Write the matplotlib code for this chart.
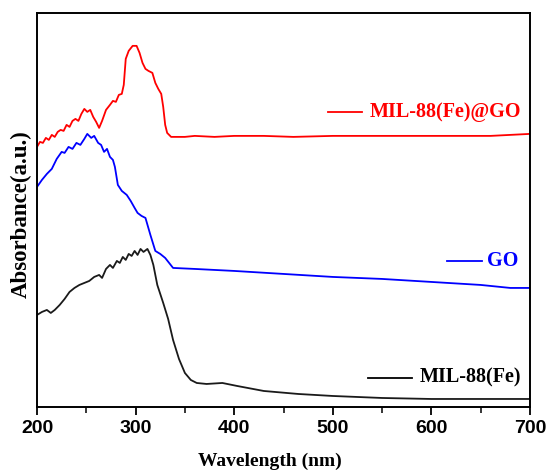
import matplotlib
matplotlib.use('Agg')
import matplotlib.pyplot as plt

# MIL-88(Fe)@GO (red)
nm_red = [200, 203, 206, 209, 212, 215, 218, 221, 224, 227, 230, 233, 236, 239, 242, 245,
          248, 251, 254, 257, 260, 263, 266, 270, 274, 277, 280, 283, 286, 288, 290, 293,
          297, 301, 304, 307, 310, 313, 317, 320, 323, 326, 328, 330, 332, 336, 340, 350,
          360, 380, 400, 430, 460, 500, 540, 580, 620, 660, 700]
abs_red = [2.60, 2.65, 2.64, 2.69, 2.67, 2.72, 2.70, 2.75, 2.77, 2.76, 2.82, 2.80, 2.86, 2.88, 2.86, 2.93,
           2.98, 2.95, 2.97, 2.90, 2.85, 2.79, 2.86, 2.97, 3.02, 3.06, 3.05, 3.12, 3.13, 3.22, 3.48, 3.56,
           3.61, 3.61, 3.54, 3.44, 3.38, 3.36, 3.34, 3.24, 3.18, 3.13, 3.00, 2.82, 2.74, 2.70, 2.70, 2.70,
           2.71, 2.70, 2.71, 2.71, 2.70, 2.71, 2.71, 2.71, 2.71, 2.71, 2.73]

# GO (blue)
nm_blue = [200, 205, 210, 215, 220, 225, 228, 232, 236, 240, 244, 248, 251, 255, 258, 262,
           265, 268, 271, 274, 277, 279, 282, 286, 291, 295, 299, 302, 306, 310, 315, 320,
           325, 330, 338, 360, 400, 450, 500, 550, 600, 650, 680, 700]
abs_blue = [2.20, 2.27, 2.33, 2.38, 2.48, 2.55, 2.54, 2.60, 2.58, 2.64, 2.62, 2.68, 2.73, 2.69, 2.71, 2.64,
            2.62, 2.55, 2.58, 2.50, 2.47, 2.40, 2.22, 2.16, 2.12, 2.06, 1.99, 1.94, 1.91, 1.89, 1.72, 1.56,
            1.53, 1.49, 1.39, 1.38, 1.36, 1.33, 1.30, 1.28, 1.25, 1.22, 1.19, 1.19]

# MIL-88(Fe) (black)
nm_black = [200, 205, 210, 214, 218, 223, 228, 233, 238, 243, 248, 253, 258, 263, 266, 270,
            274, 277, 281, 284, 287, 290, 293, 296, 299, 302, 305, 308, 312, 315, 318, 322,
            328, 333, 338, 344, 350, 356, 362, 372, 388, 403, 430, 465, 500, 550, 600, 650, 700]
abs_black = [0.92, 0.95, 0.97, 0.94, 0.97, 1.02, 1.08, 1.15, 1.19, 1.22, 1.24, 1.26, 1.30, 1.32, 1.29, 1.38,
             1.42, 1.39, 1.46, 1.44, 1.50, 1.47, 1.53, 1.51, 1.56, 1.52, 1.58, 1.55, 1.58, 1.52, 1.42, 1.22,
             1.04, 0.88, 0.67, 0.48, 0.34, 0.27, 0.24, 0.23, 0.24, 0.21, 0.16, 0.13, 0.11, 0.09, 0.08, 0.08, 0.08]

fig = plt.figure(figsize=(5.49, 4.76), dpi=100)
ax = fig.add_axes([0.0674, 0.145, 0.898, 0.828])

ax.plot(nm_red, abs_red, color='#ff0000', lw=1.3)
ax.plot(nm_blue, abs_blue, color='#0000ff', lw=1.3)
ax.plot(nm_black, abs_black, color='#1a1a1a', lw=1.3)

# labels beside the curves (short line + text)
etiquetas = [('MIL-88(Fe)@GO', '#ff0000', 0.590, 0.659, 0.749, 0.675),
             ('GO', '#0000ff', 0.832, 0.903, 0.371, 0.913),
             ('MIL-88(Fe)', '#000000', 0.671, 0.761, 0.074, 0.777)]
for txt, cor, x0, x1, y, xt in etiquetas:
    ax.plot([x0, x1], [y, y], color=cor, lw=1.3, transform=ax.transAxes)
    ax.text(xt, y, txt, color=cor, transform=ax.transAxes, va='center', ha='left',
            fontsize=14.5, fontweight='bold', family='Liberation Serif')

ax.set_xlim(200, 700)
ax.set_ylim(0, 3.94)
ax.set_xticks([200, 300, 400, 500, 600, 700])
ax.set_xticks([250, 350, 450, 550, 650], minor=True)
ax.set_yticks([])
ax.tick_params(axis='x', which='major', direction='out', length=6, width=1.3)
ax.tick_params(axis='x', which='minor', direction='out', length=4, width=1.1)
for lab in ax.get_xticklabels():
    lab.set_family('Liberation Sans')
    lab.set_fontweight('bold')
    lab.set_fontsize(14)
for s in ax.spines.values():
    s.set_linewidth(1.4)

ax.set_xlabel('Wavelength (nm)', fontsize=14, fontweight='bold', family='Liberation Serif')
ax.xaxis.set_label_coords(0.472, -0.115)
ax.set_ylabel('Absorbance(a.u.)', fontsize=16.5, fontweight='bold', family='Liberation Serif')
ax.yaxis.set_label_coords(-0.01, 0.49)

plt.savefig('out.png', dpi=100)
